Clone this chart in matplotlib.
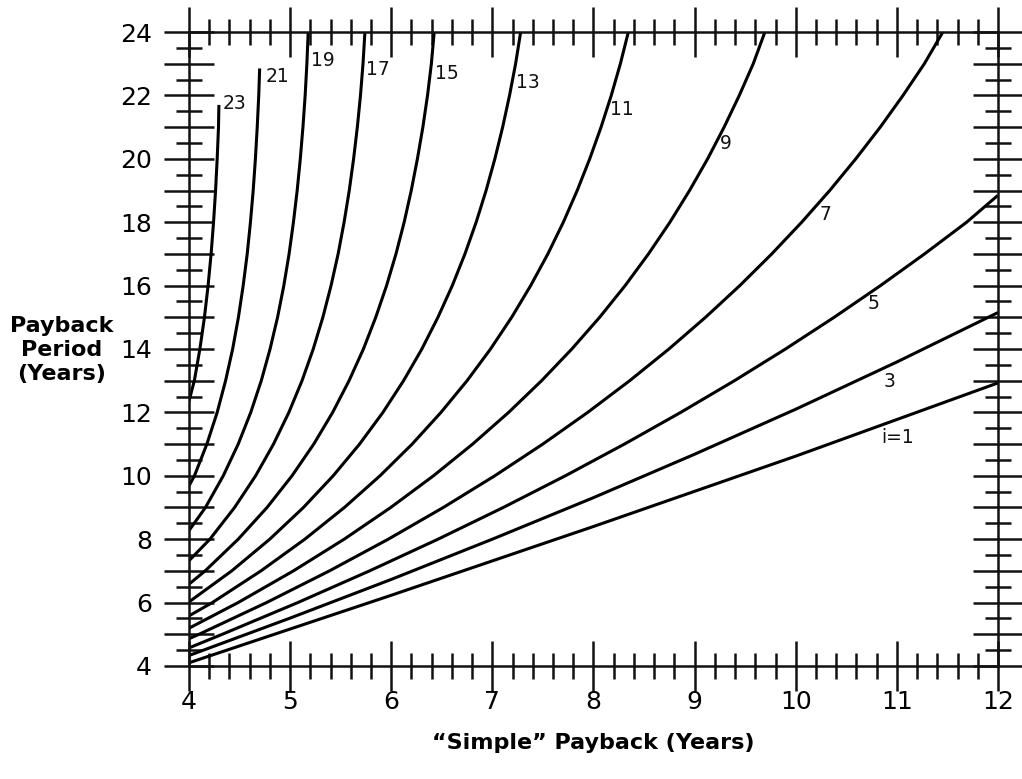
import matplotlib.pyplot as plt
from matplotlib.ticker import MultipleLocator, FuncFormatter

# interest rates (%) for each curve
rates = [1, 3, 5, 7, 9, 11, 13, 15, 17, 19, 21, 23]

# simple payback (x) and payback period with interest (y), read per curve
s_i1 = [4, 6, 8, 10, 12]
p_i1 = [4.10, 6.23, 8.40, 10.62, 12.93]

s_i3 = [4, 5, 6, 7, 8, 9, 10, 11, 12]
p_i3 = [4.33, 5.51, 6.73, 8.00, 9.31, 10.68, 12.10, 13.59, 15.15]

s_i5 = [4, 4.330, 5.076, 5.786, 6.463, 7.108, 7.722, 8.306, 8.863, 9.394,
        9.899, 10.380, 10.838, 11.274, 11.690, 12]
p_i5 = [4.57, 5, 6, 7, 8, 9, 10, 11, 12, 13, 14, 15, 16, 17, 18, 18.85]

s_i7 = [4, 4.100, 4.767, 5.389, 5.971, 6.515, 7.024, 7.499, 7.943, 8.358,
        8.746, 9.108, 9.447, 9.763, 10.059, 10.336, 10.594, 10.836, 11.061,
        11.272, 11.455]
p_i7 = [4.86, 5, 6, 7, 8, 9, 10, 11, 12, 13, 14, 15, 16, 17, 18, 19, 20, 21,
        22, 23, 24]

s_i9 = [4, 4.486, 5.033, 5.535, 5.995, 6.418, 6.805, 7.161, 7.487, 7.786,
        8.061, 8.313, 8.544, 8.756, 8.950, 9.129, 9.292, 9.442, 9.580, 9.695]
p_i9 = [5.19, 6, 7, 8, 9, 10, 11, 12, 13, 14, 15, 16, 17, 18, 19, 20, 21, 22,
        23, 24]

s_i11 = [4, 4.231, 4.712, 5.146, 5.537, 5.889, 6.207, 6.492, 6.750, 6.982,
         7.191, 7.379, 7.549, 7.702, 7.839, 7.963, 8.075, 8.176, 8.266, 8.345]
p_i11 = [5.58, 6, 7, 8, 9, 10, 11, 12, 13, 14, 15, 16, 17, 18, 19, 20, 21, 22,
         23, 24]

s_i13 = [4, 4.423, 4.799, 5.132, 5.426, 5.687, 5.918, 6.122, 6.303, 6.462,
         6.604, 6.729, 6.840, 6.938, 7.025, 7.102, 7.170, 7.230, 7.280]
p_i13 = [6.02, 7, 8, 9, 10, 11, 12, 13, 14, 15, 16, 17, 18, 19, 20, 21, 22,
         23, 24]

s_i15 = [4, 4.160, 4.487, 4.772, 5.019, 5.234, 5.421, 5.583, 5.725, 5.847,
         5.954, 6.047, 6.128, 6.198, 6.259, 6.313, 6.359, 6.397, 6.425]
p_i15 = [6.58, 7, 8, 9, 10, 11, 12, 13, 14, 15, 16, 17, 18, 19, 20, 21, 22,
         23, 24]

s_i17 = [4, 4.207, 4.451, 4.659, 4.836, 4.988, 5.118, 5.229, 5.324, 5.405,
         5.475, 5.534, 5.585, 5.628, 5.665, 5.696, 5.721, 5.740]
p_i17 = [7.32, 8, 9, 10, 11, 12, 13, 14, 15, 16, 17, 18, 19, 20, 21, 22, 23,
         24]

s_i19 = [4, 4.163, 4.339, 4.487, 4.611, 4.715, 4.802, 4.876, 4.938, 4.990,
         5.033, 5.070, 5.101, 5.127, 5.149, 5.166, 5.179]
p_i19 = [8.27, 9, 10, 11, 12, 13, 14, 15, 16, 17, 18, 19, 20, 21, 22, 23, 24]

s_i21 = [4, 4.054, 4.177, 4.279, 4.362, 4.432, 4.489, 4.536, 4.576, 4.608,
         4.635, 4.657, 4.675, 4.690, 4.699]
p_i21 = [9.68, 10, 11, 12, 13, 14, 15, 16, 17, 18, 19, 20, 21, 22, 22.85]

s_i23 = [4, 4.053, 4.108, 4.153, 4.189, 4.219, 4.243, 4.263, 4.279, 4.292,
         4.296]
p_i23 = [12.35, 13, 14, 15, 16, 17, 18, 19, 20, 21, 21.7]

# curve labels and where they sit
label_texts = ["i=1", "3", "5", "7", "9", "11", "13", "15", "17", "19", "21", "23"]
label_x = [11.01, 10.93, 10.77, 10.29, 9.31, 8.28, 7.35, 6.55, 5.87, 5.32, 4.88, 4.45]
label_y = [11.22, 12.96, 15.45, 18.23, 20.47, 21.57, 22.42, 22.70, 22.83, 23.09, 22.61, 21.73]

curves_s = [s_i1, s_i3, s_i5, s_i7, s_i9, s_i11, s_i13, s_i15, s_i17, s_i19, s_i21, s_i23]
curves_p = [p_i1, p_i3, p_i5, p_i7, p_i9, p_i11, p_i13, p_i15, p_i17, p_i19, p_i21, p_i23]

plt.rcParams['font.family'] = ['DejaVu Sans']

fig = plt.figure(figsize=(10.22, 7.79), dpi=100)
ax = fig.add_axes([0.1849, 0.1451, 0.7916, 0.8138])

for s, p in zip(curves_s, curves_p):
    ax.plot(s, p, color='black', linewidth=2.2, solid_capstyle='butt',
            solid_joinstyle='round')

for txt, x, y in zip(label_texts, label_x, label_y):
    ax.text(x, y, txt, fontsize=13.5, ha='center', va='center', color='#111111')

ax.set_xlim(4, 12)
ax.set_ylim(4, 24)

ax.xaxis.set_major_locator(MultipleLocator(1))
ax.xaxis.set_minor_locator(MultipleLocator(0.2))
ax.yaxis.set_major_locator(MultipleLocator(1))
ax.yaxis.set_minor_locator(MultipleLocator(0.5))
# every integer gets a long tick, only the even ones are numbered
ax.yaxis.set_major_formatter(FuncFormatter(
    lambda v, pos: str(int(round(v))) if int(round(v)) % 2 == 0 else ""))

for sp in ax.spines.values():
    sp.set_linewidth(1.8)
    sp.set_color('#111111')

ax.tick_params(which='both', direction='inout', top=True, right=True,
               width=1.8, color='#111111')
ax.tick_params(which='major', length=36, labelsize=18)
ax.tick_params(which='minor', length=19)
ax.tick_params(axis='y', pad=8.5)
ax.tick_params(axis='x', pad=-1)

ax.set_xlabel("\u201cSimple\u201d Payback (Years)", fontsize=16, fontweight='bold',
              labelpad=14)
fig.text(62 / 1022, 1 - 350 / 779, "Payback\nPeriod\n(Years)", fontsize=16,
         fontweight='bold', ha='center', va='center', multialignment='center',
         linespacing=1.25)

fig.savefig('out.png', dpi=100)
